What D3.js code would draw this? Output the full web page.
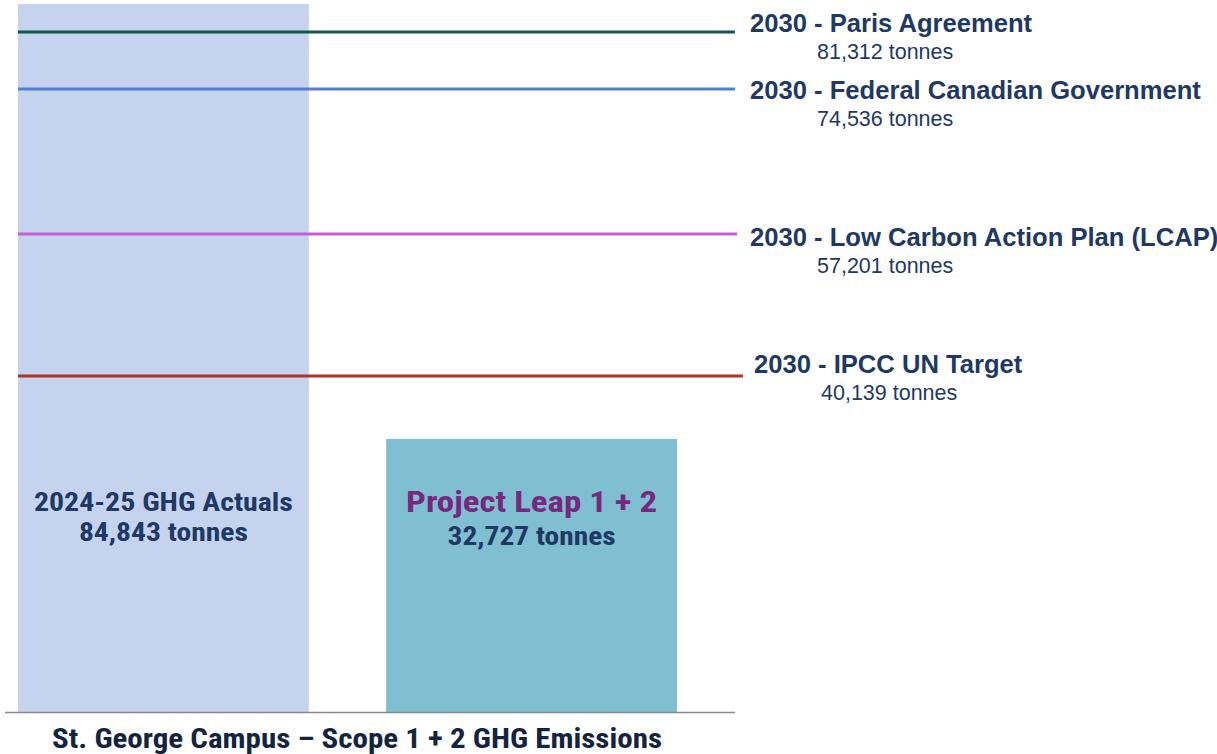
<!DOCTYPE html>
<html>
<head>
<meta charset="utf-8">
<script src="https://cdn.jsdelivr.net/npm/d3@7"></script>
<style>
  body { margin: 0; background: #fff; }
  svg { display: block; }
</style>
</head>
<body>
<div id="chart"></div>
<script>
// bars
const categories = ["2024-25 GHG Actuals", "Project Leap 1 + 2"];
const barValues = [84843, 32727];
const barColors = ["#C5D3EE", "#80BED2"];

// 2030 targets
const targetNames = ["2030 - Paris Agreement", "2030 - Federal Canadian Government", "2030 - Low Carbon Action Plan (LCAP)", "2030 - IPCC UN Target"];
const targetValues = [81312, 74536, 57201, 40139];
const targetColors = ["#17574A", "#5680CC", "#C35FD3", "#AE3327"];

const fmt = d3.format(",");

var width = 1217, height = 754;
var baseY = 712;

var svg = d3.select("#chart").append("svg")
    .attr("width", width)
    .attr("height", height);

var y = d3.scaleLinear().domain([0, 84843]).range([baseY, 4]);
var x = d3.scaleBand().domain(categories).range([18, 677]).paddingInner(0.21).paddingOuter(0);

// bars
svg.selectAll("rect.bar")
    .data(categories)
    .enter().append("rect")
    .attr("class", "bar")
    .attr("x", d => x(d))
    .attr("width", x.bandwidth())
    .attr("y", (d, i) => y(barValues[i]))
    .attr("height", (d, i) => baseY - y(barValues[i]))
    .attr("fill", (d, i) => barColors[i]);

// baseline
svg.append("line")
    .attr("x1", 5).attr("x2", 735)
    .attr("y1", baseY + 0.5).attr("y2", baseY + 0.5)
    .attr("stroke", "#8a8a8a").attr("stroke-width", 1.5);

// target lines + labels (label placement tweaks per line)
var labelX = [750, 750, 750, 754];
var lineEnd = [735, 735, 737, 743];
var labelDy = [0, 10, 12, -3];
targetValues.forEach(function(v, i) {
    var ly = Math.round(y(v)) - 1;
    svg.append("line")
        .attr("x1", 18).attr("x2", lineEnd[i])
        .attr("y1", ly).attr("y2", ly)
        .attr("stroke", targetColors[i]).attr("stroke-width", 3);
    svg.append("text")
        .attr("x", labelX[i]).attr("y", ly + labelDy[i])
        .attr("font-family", "Liberation Sans, Arial, sans-serif")
        .attr("font-weight", "bold")
        .attr("font-size", 25.6)
        .attr("fill", "#1F3864")
        .text(targetNames[i]);
    svg.append("text")
        .attr("x", labelX[i] + 67).attr("y", ly + labelDy[i] + 27)
        .attr("font-family", "Liberation Sans, Arial, sans-serif")
        .attr("font-size", 21.5)
        .attr("fill", "#1F3864")
        .text(fmt(v) + " tonnes");
});

// bar labels
var cond = "'Roboto Condensed', 'Liberation Sans Narrow', 'Liberation Sans', sans-serif";
function barText(txt, cx, ty, size, color, len) {
    svg.append("text")
        .attr("x", cx).attr("y", ty)
        .attr("text-anchor", "middle")
        .attr("font-family", cond).attr("font-weight", "bold").attr("font-size", size)
        .attr("fill", color)
        .attr("textLength", len).attr("lengthAdjust", "spacingAndGlyphs")
        .text(txt);
}
var c0 = x(categories[0]) + x.bandwidth() / 2;
var c1 = x(categories[1]) + x.bandwidth() / 2;
barText(categories[0], c0, 511, 25, "#203864", 259);
barText(fmt(barValues[0]) + " tonnes", c0, 541, 25, "#203864", 169);
barText(categories[1], c1, 512, 30, "#76287E", 251);
barText(fmt(barValues[1]) + " tonnes", c1, 545, 25, "#203864", 168);

// chart title
svg.append("text")
    .attr("x", 357).attr("y", 748)
    .attr("text-anchor", "middle")
    .attr("font-family", cond).attr("font-weight", "bold").attr("font-size", 28)
    .attr("fill", "#14243F")
    .attr("textLength", 610).attr("lengthAdjust", "spacingAndGlyphs")
    .text("St. George Campus \u2013 Scope 1 + 2 GHG Emissions");
</script>
</body>
</html>
